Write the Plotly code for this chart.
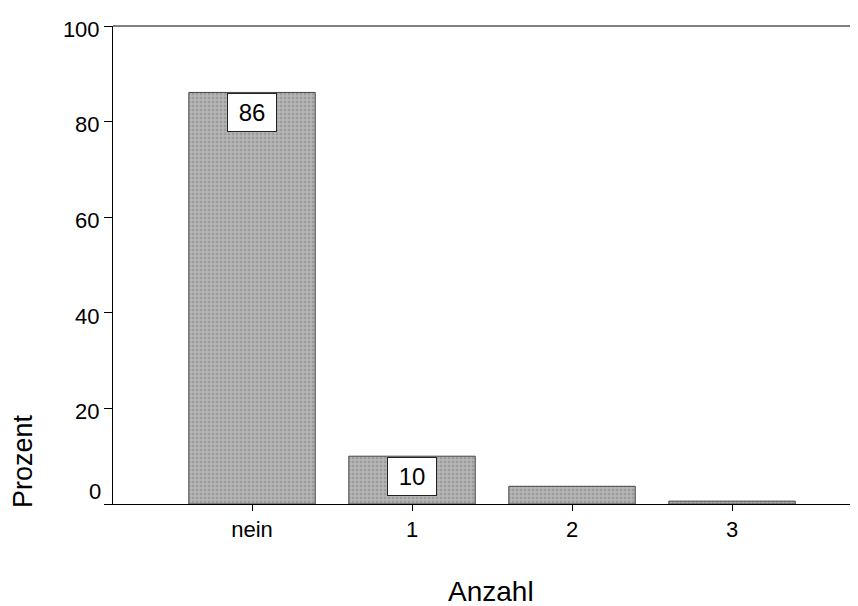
import plotly.graph_objects as go

categories = ["nein", "1", "2", "3"]
prozent = [86.1, 10.0, 3.7, 0.6]
label_values = ["86", "10", "", ""]
y_ticks = [0, 20, 40, 60, 80, 100]
y_tick_text = ["", "20", "40", "60", "80", "100"]

FONT = "Liberation Sans, Arial, sans-serif"

fig = go.Figure()
fig.add_trace(go.Bar(
    x=categories, y=prozent, width=0.79,
    marker=dict(color="#a8a8a8", line=dict(color="#444444", width=1),
                pattern=dict(shape="+", fgcolor="#e2e2e2", bgcolor="#9c9c9c", size=4, solidity=0.45)),
    showlegend=False,
))

for c, v, lab in zip(categories, prozent, label_values):
    if lab:
        fig.add_annotation(x=c, y=v, text=lab, showarrow=False, yanchor="top", yshift=-1,
                           width=44, height=33, align="center", valign="middle",
                           bgcolor="white", bordercolor="#222", borderwidth=1, borderpad=2,
                           font=dict(size=24, color="black", family=FONT))

# zero label sits slightly above the axis line, as in the original
fig.add_annotation(text="0", xref="paper", yref="y", x=0, y=y_ticks[0], xshift=-10, yshift=13,
                   xanchor="right", yanchor="middle", showarrow=False,
                   font=dict(size=22, color="black", family=FONT))
fig.add_annotation(text="Prozent", xref="paper", yref="paper", x=-0.121, y=0.09,
                   textangle=-90, showarrow=False, font=dict(size=27, color="black", family=FONT),
                   xanchor="center", yanchor="middle")
fig.add_annotation(text="Anzahl", xref="paper", yref="paper", x=0.508, y=-0.183,
                   showarrow=False, font=dict(size=28, color="black", family=FONT),
                   xanchor="center", yanchor="middle")

fig.update_layout(
    width=850, height=598,
    margin=dict(l=105, r=1, t=18, b=102),
    plot_bgcolor="white", paper_bgcolor="white",
    font=dict(family=FONT, color="black"),
)
fig.update_xaxes(range=[-0.869, 3.781], showline=True, linecolor="black", linewidth=1, mirror=False,
                 ticks="outside", ticklen=6, tickcolor="black", tickfont=dict(size=22),
                 showgrid=False)
fig.update_yaxes(range=[0, 100], tickvals=y_ticks, ticktext=y_tick_text, ticklabelshift=3,
                 showline=True, linecolor="black", linewidth=1,
                 ticks="outside", ticklen=8, tickcolor="black", tickfont=dict(size=22),
                 showgrid=False, zeroline=False)
fig.add_shape(type="line", xref="paper", yref="paper", x0=0, x1=1, y0=1, y1=1,
              line=dict(color="black", width=1))

fig.write_html("out.html")
